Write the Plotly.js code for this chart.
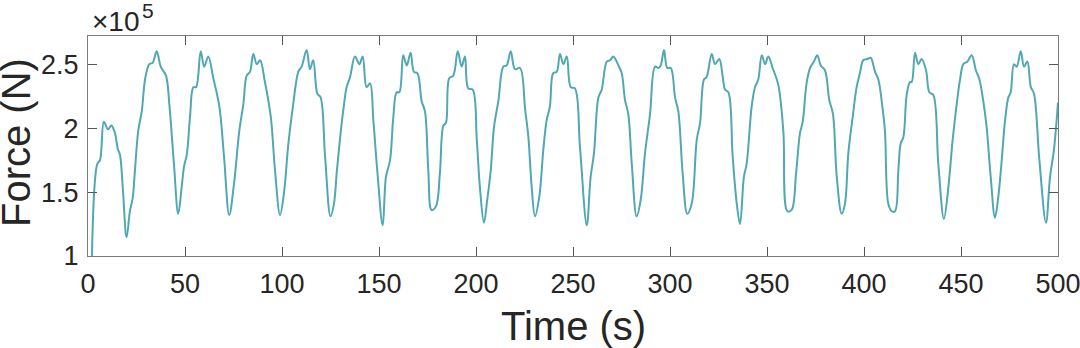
<!DOCTYPE html>
<html>
<head>
<meta charset="utf-8">
<script src="https://cdn.plot.ly/plotly-3.0.1.min.js"></script>
<style>
  html, body { margin: 0; padding: 0; background: #fff; }
  #chart { width: 1080px; height: 348px; }
</style>
</head>
<body>
<div id="chart"></div>
<script>
// Force time history. Force kept in units of 1e5 N
// (the axis carries a x10^5 multiplier, MATLAB style).
var TIME_S = [
  2, 4.8, 6.2, 8.2, 10.3, 12.0, 13.9, 15.3, 16.5, 17.9, 19.9, 21.6, 23.0, 24.2, 25.9, 27.7,
  29.5, 31.6, 33.3, 35.4, 37.5, 40.2, 41.9, 44.3, 46.5, 48.3, 49.5, 50.9, 52.6, 54.3, 55.7,
  58.1, 59.9, 62.0, 64.6, 67.7, 70.1, 72.8, 75.3, 78.0, 80.1, 81.8, 83.5, 85.2, 87.0, 88.7,
  91.2, 94.2, 96.4, 99.0, 101.0, 103.3, 105.8, 108.4, 110.1, 112.7, 114.4, 116.1, 118.2,
  119.9, 122.2, 125.0, 126.8, 128.2, 130.2, 131.6, 133.3, 135.1, 137.6, 139.9, 141.6, 143.6,
  145.4, 147.1, 149.1, 151.9, 153.6, 155.7, 157.4, 159.1, 160.5, 162.5, 164.3, 166.3, 168.0,
  169.8, 172.0, 173.7, 175.4, 177.1, 179.4, 181.4, 183.2, 184.5, 186.2, 188.3, 190.6, 192.6,
  194.3, 196.0, 198.3, 200.4, 202.1, 204.1, 205.8, 207.6, 209.3, 211.5, 214.1, 215.8, 217.9,
  220.1, 222.7, 225.3, 227.0, 228.7, 230.4, 232.6, 234.7, 236.4, 238.1, 239.8, 241.6, 243.3,
  245.0, 246.8, 248.8, 251.0, 253.6, 257.1, 259.1, 260.8, 263.1, 264.8, 267.4, 269.1, 270.8,
  273.4, 275.1, 276.8, 278.5, 280.3, 282.8, 284.9, 287.1, 289.7, 292.3, 294.0, 295.2, 296.9,
  298.6, 300.4, 302.6, 304.3, 306.5, 308.9, 311.2, 313.8, 315.5, 317.5, 318.9, 321.5, 323.2,
  325.4, 327.1, 328.4, 330.1, 332.3, 334.4, 336.1, 338.1, 339.5, 342.1, 343.8, 345.5, 347.3,
  349.0, 350.7, 352.9, 355.8, 358.4, 360.5, 362.7, 365.0, 367.0, 368.4, 370.4, 372.2, 374.2,
  375.9, 377.7, 379.9, 382.1, 384.0, 385.9, 388.5, 390.2, 391.9, 394.2, 396.2, 397.9, 399.6,
  401.7, 403.4, 405.7, 407.4, 409.6, 410.8, 412.5, 414.3, 416.0, 417.7, 418.9, 420.3, 422.0,
  423.7, 424.6, 426.3, 428.0, 429.7, 432.0, 433.7, 435.7, 438.3, 441.2, 443.5, 445.7, 447.8,
  449.5, 451.2, 453.3, 455.5, 457.7, 459.5, 461.5, 463.2, 465.3, 467.5, 469.2, 471.0, 472.7,
  474.4, 475.6, 477.3, 478.7, 480.8, 482.5, 484.2, 486.0, 487.6, 490.4, 493.8, 495.9, 497.9,
  500
];
var FORCE_E5 = [
  0.98, 1.72, 1.75, 2.05, 1.99, 2.02, 1.96, 1.84, 1.79, 1.54, 1.146, 1.35, 1.45, 1.67, 1.98, 2.13,
  2.39, 2.50, 2.51, 2.60, 2.48, 2.41, 2.19, 1.72, 1.33, 1.54, 1.70, 1.79, 2.09, 2.32, 2.32,
  2.60, 2.48, 2.56, 2.39, 2.17, 1.78, 1.32, 1.57, 1.98, 2.19, 2.41, 2.44, 2.58, 2.50, 2.53,
  2.36, 2.09, 1.67, 1.32, 1.49, 1.88, 2.19, 2.44, 2.48, 2.61, 2.46, 2.53, 2.27,
  2.24, 1.78, 1.31, 1.41, 1.65, 1.96, 2.14, 2.32, 2.40, 2.56, 2.50, 2.56, 2.32,
  2.35, 2.06, 1.67, 1.24, 1.62, 1.75, 2.09, 2.28, 2.28, 2.57, 2.49, 2.59, 2.44,
  2.43, 2.21, 2.13, 1.67, 1.36, 1.39, 1.65, 2.02, 2.04, 2.39, 2.41, 2.60, 2.48,
  2.56, 2.31, 2.30, 1.91, 1.52, 1.26, 1.44, 1.67, 2.01, 2.21, 2.48, 2.49, 2.60,
  2.46, 2.47, 2.15, 1.93, 1.54, 1.31, 1.46, 1.83, 2.06, 2.17, 2.43, 2.44, 2.58,
  2.50, 2.56, 2.32, 2.31, 1.85, 1.24, 1.62, 1.80, 2.24, 2.30, 2.52, 2.53, 2.56,
  2.49, 2.43, 2.22, 2.11, 1.72, 1.31, 1.44, 1.80, 2.11, 2.48, 2.47, 2.49, 2.61,
  2.47, 2.47, 2.24, 2.13, 1.65, 1.33, 1.41, 1.91, 2.04, 2.38, 2.40, 2.58, 2.50,
  2.54, 2.41, 2.30, 2.28, 1.78, 1.41, 1.25, 1.62, 1.72, 2.17, 2.32, 2.38, 2.57,
  2.50, 2.56, 2.47, 2.34, 1.98, 1.35, 1.36, 1.65, 1.96, 2.05, 2.35, 2.47, 2.52,
  2.57, 2.49, 2.45, 2.22, 2.11, 1.63, 1.33, 1.41, 1.80, 2.09, 2.32, 2.43, 2.53,
  2.54, 2.55, 2.44, 2.38, 2.15, 1.98, 1.41, 1.35, 1.35, 1.67, 1.88, 1.93, 2.26,
  2.36, 2.36, 2.59, 2.50, 2.54, 2.45, 2.28, 2.26, 1.72, 1.29, 1.54, 1.91, 2.19,
  2.38, 2.50, 2.52, 2.57, 2.45, 2.38, 2.21, 2.01, 1.62, 1.30, 1.46, 1.75, 2.06,
  2.24, 2.28, 2.50, 2.48, 2.60, 2.48, 2.52, 2.32, 2.27, 1.75, 1.26, 1.62, 1.83,
  2.20
];
var X_TICKS = [0, 50, 100, 150, 200, 250, 300, 350, 400, 450, 500];
var Y_TICKS = [1, 1.5, 2, 2.5];
var Y_TICK_TEXT = ['1', '1.5', '2', '2.5'];

var INK = '#262626';
var LINE = '#50A8B4';
var FONT = 'Liberation Sans, Arial, Helvetica, sans-serif';

var trace = {
    type: 'scatter', mode: 'lines',
    x: TIME_S, y: FORCE_E5,
    line: { color: LINE, width: 2, shape: 'spline', smoothing: 1 },
    hoverinfo: 'skip', showlegend: false,
};

function axis(extra) {
    var a = {
        showline: true, linecolor: '#7a7a7a', linewidth: 1, mirror: 'ticks',
        ticks: 'inside', ticklen: 9, tickcolor: '#555', tickwidth: 1,
        showgrid: false, zeroline: false, fixedrange: true,
        ticklabeloverflow: 'allow',
        tickfont: { family: FONT, size: 27, color: INK },
    };
    for (var k in extra) a[k] = extra[k];
    return a;
}

function label(text, size, extra) {
    var a = { text: text, xref: 'paper', yref: 'paper', showarrow: false,
              font: { family: FONT, size: size, color: INK } };
    for (var k in extra) a[k] = extra[k];
    return a;
}

var layout = {
    width: 1080, height: 348,
    paper_bgcolor: '#fff', plot_bgcolor: '#fff',
    margin: { l: 88, r: 22, t: 36, b: 92 },
    xaxis: axis({ range: [0, 500], tickvals: X_TICKS, ticklabelstandoff: 4 }),
    yaxis: axis({ range: [1, 2.72], tickvals: Y_TICKS, ticktext: Y_TICK_TEXT, ticklabelstandoff: 3 }),
    annotations: [
        label('Time (s)', 40, { x: 0.5, y: 0, xanchor: 'center', yanchor: 'middle', yshift: -70 }),
        label('Force (N)', 40, { x: 0, y: 0.5, xanchor: 'center', yanchor: 'middle',
                                 xshift: -72, yshift: 3, textangle: -90 }),
        // MATLAB exponent tag above the y axis
        label('\u00d710', 28, { x: 0, y: 1, xanchor: 'left', yanchor: 'middle', xshift: 2, yshift: 15 }),
        label('5', 21, { x: 0, y: 1, xanchor: 'left', yanchor: 'middle', xshift: 52, yshift: 26 }),
    ],
};

Plotly.newPlot('chart', [trace], layout, { staticPlot: true });
</script>
</body>
</html>
